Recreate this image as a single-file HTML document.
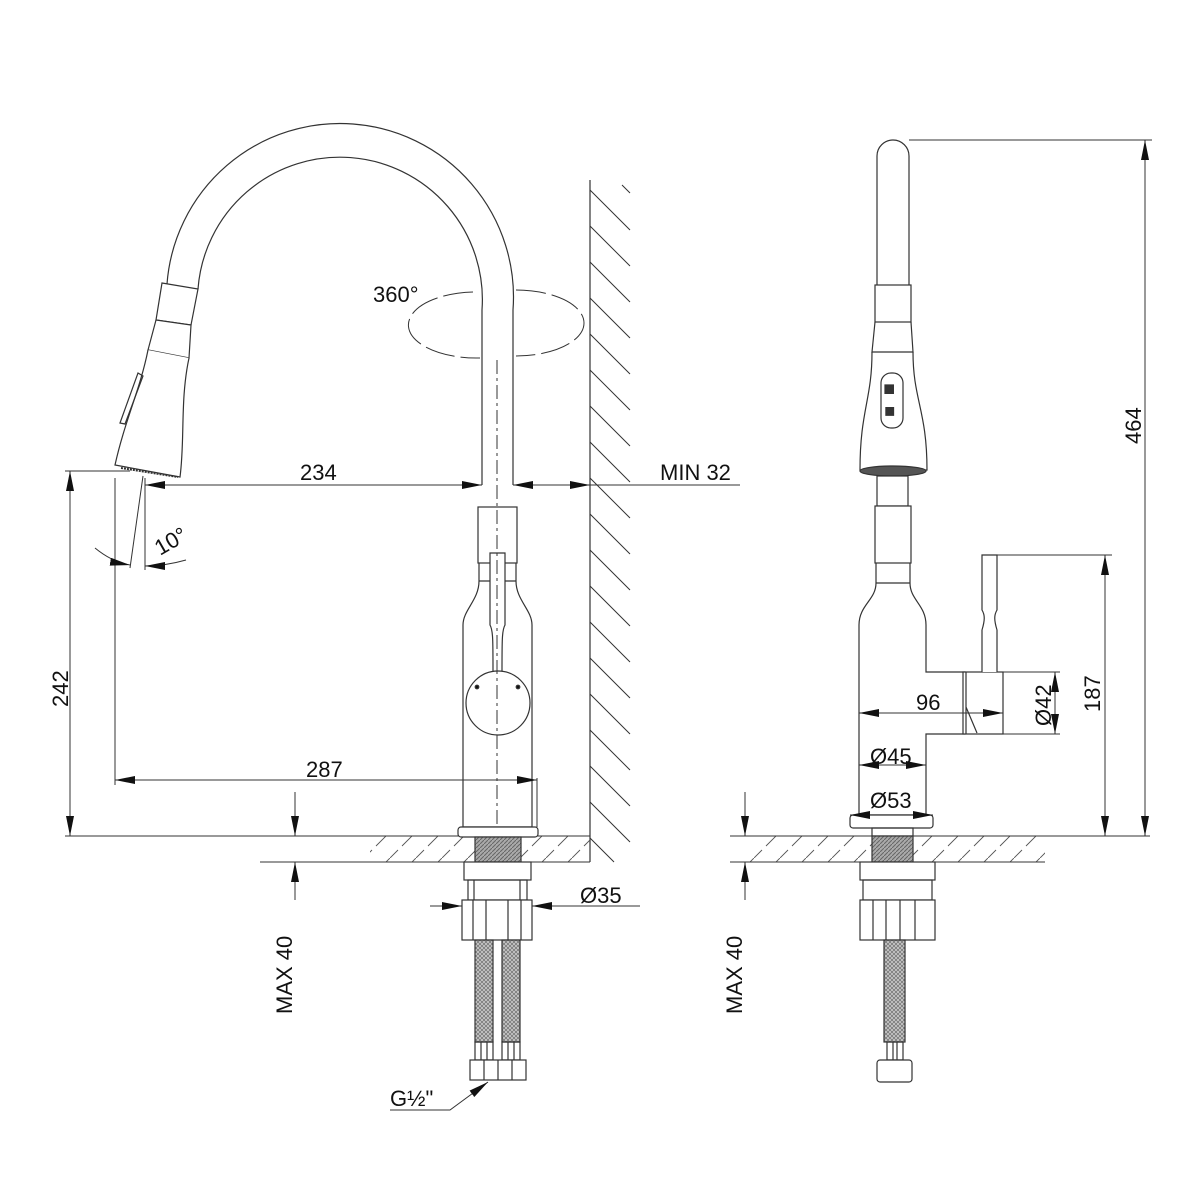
<!DOCTYPE html>
<html><head><meta charset="utf-8"><style>
html,body{margin:0;padding:0;background:#fff;}
svg{display:block}
text{font-family:"Liberation Sans",Arial,sans-serif;font-size:22px;fill:#111}
</style></head><body>
<svg width="1200" height="1200" viewBox="0 0 1200 1200" xmlns="http://www.w3.org/2000/svg">
<defs>
<marker id="a" viewBox="0 0 20 8" refX="20" refY="4" markerWidth="20" markerHeight="8" markerUnits="userSpaceOnUse" orient="auto-start-reverse"><path d="M0,0 L20,4 L0,8z" fill="#111"/></marker>
<pattern id="dh" width="26" height="26" patternUnits="userSpaceOnUse"><path d="M0,26 L8,18 M12,14 L26,0" stroke="#555" stroke-width="0.9"/></pattern>
<pattern id="thr" width="4" height="4" patternUnits="userSpaceOnUse"><rect width="4" height="4" fill="#aaa"/><path d="M0,4 L4,0" stroke="#666" stroke-width="1"/></pattern>
<pattern id="br" width="4" height="4" patternUnits="userSpaceOnUse"><rect width="4" height="4" fill="#ccc"/><path d="M0,0 L4,4 M4,0 L0,4" stroke="#777" stroke-width="0.8"/></pattern>
</defs>
<g fill="none" stroke="#333" stroke-width="1.2">
<line x1="590" y1="180" x2="590" y2="862"/>
<g stroke-width="1">
<path d="M622,185 L630,193 M590,190 L630,230 M590,226 L630,266 M590,262 L630,302 M590,298 L630,338 M590,334 L630,374 M590,370 L630,410 M590,406 L630,446 M590,442 L630,482 M590,478 L630,518 M590,514 L630,554 M590,550 L630,590 M590,586 L630,626 M590,622 L630,662 M590,658 L630,698 M590,694 L630,734 M590,730 L630,770 M590,766 L630,806 M590,802 L630,842 M590,838 L614,862"/>
</g>
<rect x="370" y="836" width="220" height="26" fill="url(#dh)" stroke="none"/>
<rect x="750" y="836" width="295" height="26" fill="url(#dh)" stroke="none"/>
<line x1="65" y1="836" x2="590" y2="836" stroke-width="1"/>
<line x1="260" y1="862" x2="590" y2="862" stroke-width="1"/>
<line x1="730" y1="836" x2="1150" y2="836" stroke-width="1"/>
<line x1="730" y1="862" x2="1045" y2="862" stroke-width="1"/>

<path d="M513,485 L513,310 A172,172 0 0 0 167,284" fill="#fff"/>
<path d="M482,485 L482,310 A142,142 0 0 0 198,289"/>
<path d="M162,283 L198,289 L191,325 L156,320 Z" fill="#fff"/>
<path d="M156,320 L191,325 L189,358 L148,350 Z" fill="#fff"/>
<path d="M148,350 C140,390 125,420 115,465 L180,477 C185,440 180,400 189,358" fill="#fff"/>
<path d="M120,423 L138,373 L143,376 L125,424 Z"/>
<path d="M121,468 L178,477" stroke-dasharray="2,1" stroke-width="2"/>
<line x1="145" y1="478" x2="145" y2="570" stroke-width="1"/>
<line x1="143" y1="476" x2="130" y2="568" stroke-width="1"/>
<line x1="115" y1="478" x2="115" y2="785" stroke-width="1"/>
<line x1="65" y1="471" x2="130" y2="471" stroke-width="1"/>
<path d="M95,548 Q112,562 130,565" marker-end="url(#a)" stroke-width="1"/>
<path d="M186,560 Q165,566 145,566" marker-end="url(#a)" stroke-width="1"/>
<line x1="145" y1="485" x2="482" y2="485" marker-start="url(#a)" marker-end="url(#a)" stroke-width="1"/>
<line x1="513" y1="485" x2="590" y2="485" marker-start="url(#a)" marker-end="url(#a)" stroke-width="1"/>
<line x1="590" y1="485" x2="740" y2="485" stroke-width="1"/>
<path d="M473,292 A68,33 0 0 0 480,358 M516,290 A68,33 0 0 1 516,356" stroke-dasharray="30,6" stroke-width="1"/>
<rect x="478" y="507" width="39" height="56" fill="#fff"/>
<path d="M479,563 L479,581 C479,600 463,610 463,625 L463,827 L532,827 L532,625 C532,610 516,600 516,581 L516,563"/>
<line x1="479" y1="581" x2="516" y2="581"/>
<path d="M490,553 L505,553 L505,625 C502,630 502,640 502,672 L493,672 C493,640 493,630 490,625 Z" fill="#fff"/>
<circle cx="498" cy="703" r="32" fill="#fff"/>
<circle cx="477" cy="687" r="1.8" fill="#111"/><circle cx="518" cy="687" r="1.8" fill="#111"/>
<line x1="497" y1="360" x2="497" y2="835" stroke-dasharray="14,4,3,4" stroke-width="1"/>
<rect x="458" y="827" width="80" height="10" rx="3" fill="#fff"/>
<rect x="475" y="837" width="46" height="25" fill="url(#thr)"/>
<rect x="464" y="862" width="67" height="18" fill="#fff"/>
<rect x="468" y="880" width="59" height="20"/>
<rect x="462" y="900" width="70" height="40" fill="#fff"/>
<path d="M473,900 V940 M486,900 V940 M508,900 V940 M521,900 V940 M474,880 V900 M520,880 V900"/>
<line x1="430" y1="906" x2="462" y2="906" marker-end="url(#a)" stroke-width="1"/>
<line x1="640" y1="906" x2="532" y2="906" marker-end="url(#a)" stroke-width="1"/>
<rect x="475" y="940" width="18" height="102" fill="url(#br)"/>
<rect x="502" y="940" width="18" height="102" fill="url(#br)"/>
<path d="M475,1042 h18 v18 h-18z M481,1042 v18 M487,1042 v18 M502,1042 h18 v18 h-18z M508,1042 v18 M514,1042 v18"/>
<rect x="470" y="1060" width="56" height="20" fill="#fff"/>
<path d="M484,1060 v20 M498,1060 v20 M512,1060 v20"/>
<path d="M390,1110 L450,1110 L488,1082" marker-end="url(#a)" stroke-width="1"/>
<line x1="115" y1="780" x2="537" y2="780" marker-start="url(#a)" marker-end="url(#a)" stroke-width="1"/>
<line x1="537" y1="778" x2="537" y2="827" stroke-width="1"/>
<line x1="70" y1="471" x2="70" y2="836" marker-start="url(#a)" marker-end="url(#a)" stroke-width="1"/>
<line x1="295" y1="792" x2="295" y2="836" marker-end="url(#a)" stroke-width="1"/>
<line x1="295" y1="900" x2="295" y2="862" marker-end="url(#a)" stroke-width="1"/>
<line x1="745" y1="792" x2="745" y2="836" marker-end="url(#a)" stroke-width="1"/>
<line x1="745" y1="900" x2="745" y2="862" marker-end="url(#a)" stroke-width="1"/>

<path d="M877,285 L877,156 A16,16 0 0 1 909,156 L909,285" fill="#fff"/>
<rect x="875" y="285" width="36" height="37" fill="#fff"/>
<path d="M875,322 L872,352 L913,352 L911,322"/>
<path d="M872,352 C872,400 860,410 860,470 L927,470 C927,410 913,400 913,352"/>
<rect x="881" y="373" width="22" height="55" rx="10"/>
<text x="884" y="392" style="font-size:11px">▥</text><text x="885" y="414" style="font-size:10px">▥</text>
<ellipse cx="893" cy="471" rx="33" ry="5" fill="#555"/>
<rect x="877" y="476" width="31" height="30" fill="#fff"/>
<rect x="875" y="506" width="36" height="57" fill="#fff"/>
<path d="M876,563 L876,583 C876,600 859,605 859,625 L859,815 L926,815 L926,734 L965,734 L965,672 L926,672 L926,625 C926,605 910,600 910,583 L910,563"/>
<line x1="876" y1="583" x2="910" y2="583"/>
<rect x="963" y="672" width="40" height="62" fill="#fff"/>
<path d="M966,672 L966,734 M966,707 L977,733"/>
<path d="M982,672 L982,630 C985,620 985,615 982,610 L982,555 L997,555 L997,610 C994,615 994,620 997,630 L997,672" fill="#fff"/>
<rect x="850" y="815" width="83" height="13" rx="3" fill="#fff"/>
<rect x="872" y="828" width="41" height="8"/>
<rect x="872" y="836" width="41" height="26" fill="url(#thr)"/>
<rect x="860" y="862" width="75" height="18" fill="#fff"/>
<rect x="863" y="880" width="69" height="20"/>
<rect x="860" y="900" width="75" height="40" fill="#fff"/>
<path d="M873,900 V940 M886,900 V940 M900,900 V940 M915,900 V940"/>
<rect x="884" y="940" width="21" height="102" fill="url(#br)"/>
<path d="M887,1042 h16 v18 h-16z M893,1042 v18 M897,1042 v18"/>
<rect x="877" y="1060" width="35" height="22" rx="3" fill="#fff"/>
<line x1="859" y1="713" x2="1003" y2="713" marker-start="url(#a)" marker-end="url(#a)" stroke-width="1"/>
<line x1="859" y1="765" x2="926" y2="765" marker-start="url(#a)" marker-end="url(#a)" stroke-width="1"/>
<line x1="850" y1="815" x2="933" y2="815" marker-start="url(#a)" marker-end="url(#a)" stroke-width="1"/>
<line x1="1003" y1="672" x2="1060" y2="672" stroke-width="1"/>
<line x1="1003" y1="734" x2="1060" y2="734" stroke-width="1"/>
<line x1="1055" y1="672" x2="1055" y2="734" marker-start="url(#a)" marker-end="url(#a)" stroke-width="1"/>
<line x1="997" y1="555" x2="1112" y2="555" stroke-width="1"/>
<line x1="1105" y1="555" x2="1105" y2="836" marker-start="url(#a)" marker-end="url(#a)" stroke-width="1"/>
<line x1="909" y1="140" x2="1152" y2="140" stroke-width="1"/>
<line x1="1145" y1="140" x2="1145" y2="836" marker-start="url(#a)" marker-end="url(#a)" stroke-width="1"/>
</g>
<text x="300" y="480">234</text>
<text x="660" y="480">MIN 32</text>
<text x="373" y="302">360°</text>
<text x="306" y="777">287</text>
<text x="580" y="903">Ø35</text>
<text x="390" y="1106">G½"</text>
<text transform="translate(160,556) rotate(-30)">10°</text>
<text transform="translate(68,707) rotate(-90)">242</text>
<text transform="translate(292,1014) rotate(-90)">MAX 40</text>
<text transform="translate(742,1014) rotate(-90)">MAX 40</text>
<text x="916" y="710">96</text>
<text x="870" y="764">Ø45</text>
<text x="870" y="808">Ø53</text>
<text transform="translate(1051,726) rotate(-90)">Ø42</text>
<text transform="translate(1100,712) rotate(-90)">187</text>
<text transform="translate(1141,444) rotate(-90)">464</text>
</svg>
</body></html>
